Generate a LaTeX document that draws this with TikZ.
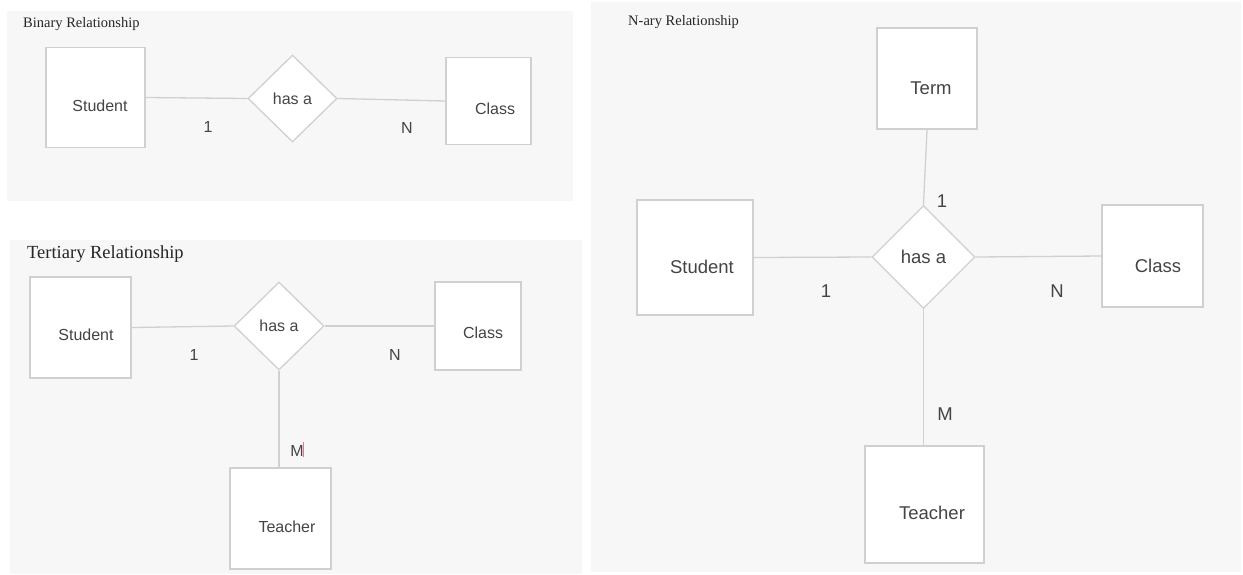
\documentclass[tikz,border=0pt]{standalone}
\usepackage{fontspec}
\setmainfont{Liberation Serif}
\newfontfamily\erfont{Liberation Sans}
\usetikzlibrary{shapes.geometric}
\definecolor{panelbg}{HTML}{F7F7F7}
\definecolor{edgegray}{HTML}{D0D0D0}
\definecolor{inkgray}{HTML}{444444}
\definecolor{cursorred}{HTML}{E07A8A}

\begin{document}
\begin{tikzpicture}[x=1pt,y=-1pt,
  entity/.style={draw=edgegray, fill=white, line width=1.3pt, inner sep=0pt},
  relation/.style={diamond, draw=edgegray, fill=white, line width=1.3pt, inner sep=0pt, text=inkgray},
  link/.style={draw=edgegray, line width=1.3pt},
  lbl/.style={text=inkgray, inner sep=0pt},
  small/.style={font=\erfont\fontsize{16}{16}\selectfont},
  large/.style={font=\erfont\fontsize{18.5}{18.5}\selectfont},
  heading/.style={anchor=west, inner sep=0pt, text=black!85}]

\useasboundingbox (0,0) rectangle (1243,574);

% panel backgrounds
\fill[panelbg] (7,11) rectangle (573,201);
\fill[panelbg] (10,240) rectangle (582,574);
\fill[panelbg] (591,2) rectangle (1241,572);

% ---------- binary ----------
\node[heading, font=\fontsize{14.5}{14.5}\selectfont] (bTitle) at (23,24) {Binary Relationship};
\node[entity, minimum width=99pt, minimum height=100pt] (bStu) at (95.5,97.5) {};
\node[lbl, small] (bStuT) at (100,106) {Student};
\node[relation, small, minimum width=89pt, minimum height=87pt] (bRel) at (292.5,98.5) {has a};
\node[entity, minimum width=85pt, minimum height=87pt] (bCls) at (488.5,101) {};
\node[lbl, small] (bClsT) at (495,109) {Class};
\draw[link] (bStu.east) -- (bRel.west);
\draw[link] (bRel.east) -- (bCls.west);
\node[lbl, small] (bC1) at (208,127) {1};
\node[lbl, small] (bC2) at (407,128) {N};

% ---------- ternary ----------
\node[heading, font=\fontsize{18.5}{18.5}\selectfont] (tTitle) at (27,254) {Tertiary Relationship};
\node[entity, minimum width=101pt, minimum height=101pt] (tStu) at (80.5,327.5) {};
\node[lbl, small] (tStuT) at (86,335) {Student};
\node[relation, small, minimum width=90pt, minimum height=88pt] (tRel) at (279,326) {has a};
\node[entity, minimum width=86pt, minimum height=88pt] (tCls) at (478,326) {};
\node[lbl, small] (tClsT) at (483,333) {Class};
\node[entity, minimum width=101pt, minimum height=101pt] (tTea) at (280.5,518.5) {};
\node[lbl, small] (tTeaT) at (287,527) {Teacher};
\draw[link] (tStu.east) -- (tRel.west);
\draw[link] (tRel.east) -- (tCls.west);
\draw[link] (tRel.south) -- (tRel.south |- tTea.north);
\node[lbl, small] (tC1) at (194,355) {1};
\node[lbl, small] (tC2) at (395,355) {N};
\node[lbl, small] (tC3) at (297,451) {M};
\draw[cursorred, line width=0.8pt] (tC3.north east) ++(0,-3) coordinate (curTop) -- ++(0,15) coordinate (curBot);

% ---------- n-ary ----------
\node[heading, font=\fontsize{14.5}{14.5}\selectfont] (nTitle) at (628,22) {N-ary Relationship};
\node[entity, minimum width=100pt, minimum height=101pt] (nTrm) at (927,78.5) {};
\node[lbl, large] (nTrmT) at (931,88) {Term};
\node[relation, large, minimum width=103pt, minimum height=103pt] (nRel) at (923.5,257) {has a};
\node[entity, minimum width=116pt, minimum height=115pt] (nStu) at (695,257.5) {};
\node[lbl, large] (nStuT) at (702,267) {Student};
\node[entity, minimum width=101pt, minimum height=102pt] (nCls) at (1152.5,256) {};
\node[lbl, large] (nClsT) at (1158,266) {Class};
\node[entity, minimum width=119pt, minimum height=117pt] (nTea) at (924.5,504.5) {};
\node[lbl, large] (nTeaT) at (932,513) {Teacher};
\draw[link] (nTrm.south) -- (nRel.north);
\draw[link] (nStu.east) -- (nRel.west);
\draw[link] (nRel.east) -- (nCls.west);
\draw[link] (nRel.south) -- (nRel.south |- nTea.north);
\node[lbl, large] (nC1) at (942,201) {1};
\node[lbl, large] (nC2) at (826,291) {1};
\node[lbl, large] (nC3) at (1057,291) {N};
\node[lbl, large] (nC4) at (945,414) {M};
\end{tikzpicture}
\end{document}
